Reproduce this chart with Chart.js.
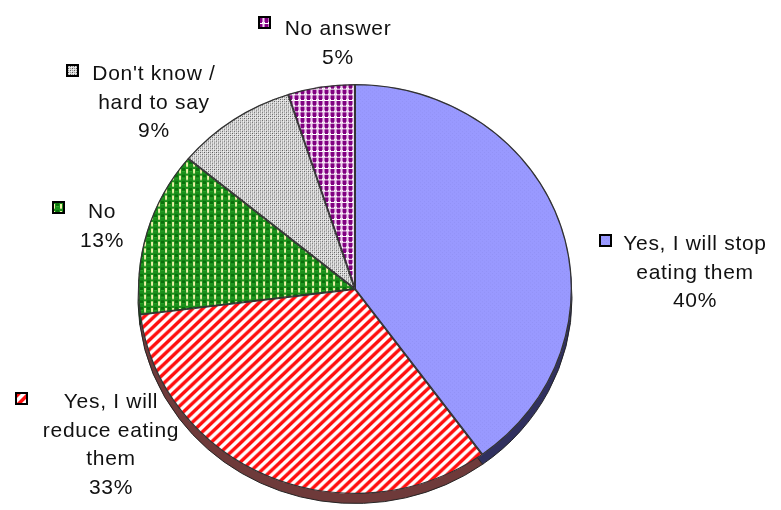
<!DOCTYPE html>
<html>
<head>
<meta charset="utf-8">
<script src="https://cdn.jsdelivr.net/npm/chart.js@4.4.1/dist/chart.umd.min.js"></script>
<style>
  html, body { margin: 0; padding: 0; background: #fff; }
  #wrap { width: 781px; height: 510px; }
</style>
</head>
<body>
<div id="wrap"><canvas id="pieChart" width="781" height="510"></canvas></div>
<script>
// answers, clockwise from 12 o'clock
const answers = ['Yes, I will stop eating them', 'Yes, I will reduce eating them', 'No', "Don't know / hard to say", 'No answer'];
const shares = [40, 33, 13, 9, 5];

// label text lines (wrapped as shown)
const labelLines = [
    ['Yes, I will stop', 'eating them', '40%'],
    ['Yes, I will', 'reduce eating', 'them', '33%'],
    ['No', '13%'],
    ["Don't know /", 'hard to say', '9%'],
    ['No answer', '5%']
];

// where each label block sits: centre x, first baseline y, and the legend box
const labelLayout = [
    { x: 695, y: 250, box: [600, 235] },
    { x: 111, y: 408, box: [16, 393] },
    { x: 102, y: 218, box: [53, 202] },
    { x: 154, y: 80, box: [67, 65] },
    { x: 338, y: 35, box: [259, 17] }
];

function makeTile(size, draw) {
    const c = document.createElement('canvas');
    c.width = size; c.height = size;
    const g = c.getContext('2d');
    draw(g, size);
    return c;
}

const tiles = [
    makeTile(4, function (g, s) {
        g.fillStyle = '#9999ff'; g.fillRect(0, 0, s, s);
        g.fillStyle = '#9292f6'; g.fillRect(0, 0, 1, 1); g.fillRect(2, 2, 1, 1);
    }),
    makeTile(10, function (g, s) {
        g.fillStyle = '#ffffff'; g.fillRect(0, 0, s, s);
        for (let i = 0; i < s; i++) {
            // stripes rising to the right
            const x0 = (s - i) % s;
            g.fillStyle = '#ff8080';
            g.fillRect(x0 - 1, i, 1, 1); g.fillRect(x0 - 1 + s, i, 1, 1);
            g.fillStyle = '#ff1010';
            g.fillRect(x0, i, 4, 1); g.fillRect(x0 - s, i, 4, 1);
            g.fillStyle = '#ff9a9a';
            g.fillRect(x0 + 4, i, 1, 1); g.fillRect(x0 + 4 - s, i, 1, 1);
        }
    }),
    makeTile(7, function (g, s) {
        g.fillStyle = '#1a8f1a'; g.fillRect(0, 0, s, s);
        g.fillStyle = '#0a700a'; g.fillRect(0, 0, 3, 3);
        g.fillStyle = '#2aa82a'; g.fillRect(0, 3, 3, 1);
        g.fillStyle = '#eef2a8'; g.fillRect(4, 1, 2, 4);
        g.fillStyle = '#a8d080'; g.fillRect(4, 5, 2, 1);
    }),
    makeTile(4, function (g, s) {
        g.fillStyle = '#dcdcdc'; g.fillRect(0, 0, s, s);
        g.fillStyle = '#5a5a5a';
        g.fillRect(0, 0, 1, 1); g.fillRect(2, 2, 1, 1);
        g.fillStyle = '#9a9a9a';
        g.fillRect(2, 0, 1, 1); g.fillRect(0, 2, 1, 1);
        g.fillStyle = '#f4f4f4';
        g.fillRect(1, 1, 1, 1); g.fillRect(3, 3, 1, 1);
    }),
    makeTile(6, function (g, s) {
        g.fillStyle = '#ffffff'; g.fillRect(0, 0, s, s);
        g.fillStyle = '#c070c0'; g.fillRect(0, 0, 6, 4);
        g.fillStyle = '#800080'; g.fillRect(1, 0, 3, 5);
        g.fillStyle = '#f0d8f0'; g.fillRect(5, 0, 1, 6);
    })
];

const sideColors = ['#30305e', '#6e3a3a', '#0c4a0c', '#555555', '#400040'];

const ctx = document.getElementById('pieChart').getContext('2d');
const fills = tiles.map(function (t) { return ctx.createPattern(t, 'repeat'); });

const squash = 0.945;
const depth = 10;

// flatten the pie a little and give it a thin side wall
const tiltPlugin = {
    id: 'tilt',
    beforeDatasetsDraw: function (chart) {
        const c = chart.ctx;
        const arcs = chart.getDatasetMeta(0).data;
        const cx = arcs[0].x, cy = arcs[0].y;
        c.save();
        c.translate(cx, cy);
        c.scale(1, squash);
        c.translate(-cx, -cy);
        for (let k = 0; k < arcs.length; k++) {
            const a = arcs[k];
            c.beginPath();
            c.moveTo(a.x, a.y + depth);
            c.arc(a.x, a.y + depth, a.outerRadius, a.startAngle, a.endAngle);
            c.closePath();
            c.fillStyle = sideColors[k];
            c.fill();
            c.strokeStyle = '#222';
            c.lineWidth = 1;
            c.stroke();
        }
    },
    afterDatasetsDraw: function (chart) {
        chart.ctx.restore();
    },
    afterDraw: function (chart) {
        const c = chart.ctx;
        c.save();
        c.font = '21px "Liberation Sans", Arial, sans-serif';
        c.letterSpacing = '0.7px';
        c.textAlign = 'center';
        c.textBaseline = 'alphabetic';
        for (let k = 0; k < labelLines.length; k++) {
            const L = labelLayout[k];
            const lines = labelLines[k];
            c.fillStyle = '#111';
            for (let j = 0; j < lines.length; j++) {
                c.fillText(lines[j], L.x, L.y + j * 28.5);
            }
            c.fillStyle = fills[k];
            c.fillRect(L.box[0], L.box[1], 11, 11);
            c.strokeStyle = '#000';
            c.lineWidth = 2;
            c.strokeRect(L.box[0], L.box[1], 11, 11);
        }
        c.restore();
    }
};

new Chart(ctx, {
    type: 'pie',
    data: {
        labels: answers,
        datasets: [{
            data: shares,
            backgroundColor: fills,
            borderColor: '#333',
            borderWidth: 1,
            borderAlign: 'inner'
        }]
    },
    options: {
        responsive: false,
        animation: false,
        rotation: 0,
        layout: { padding: { left: 138, right: 209, top: 70, bottom: 2 } },
        plugins: {
            legend: { display: false },
            tooltip: { enabled: false }
        }
    },
    plugins: [tiltPlugin]
});
</script>
</body>
</html>
